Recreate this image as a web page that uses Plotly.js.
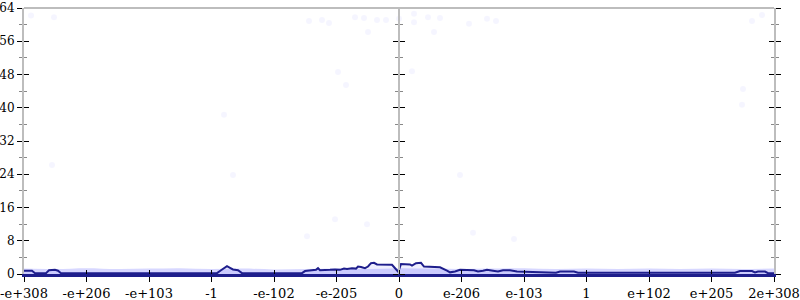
<!DOCTYPE html>
<html>
<head>
<meta charset="utf-8">
<script src="https://cdn.plot.ly/plotly-3.0.1.min.js"></script>
<style>html,body{margin:0;padding:0;background:#fff}#chart{width:800px;height:300px}</style>
</head>
<body>
<div id="chart"></div>
<script>
// x positions are in tick-index units (0 = -e+308 ... 6 = 0 ... 12 = 2e+308)
const tickPositions = [0,1,2,3,4,5,6,7,8,9,10,11,12];
const tickLabels = ["-e+308","-e+206","-e+103","-1","-e-102","-e-205","0","e-206","e-103","1","e+102","e+205","2e+308"];
const yTicks = [0,8,16,24,32,40,48,56,64];

// main (dark) series
const lineX = [0,0.128,0.176,0.352,0.4,0.496,0.544,0.592,1.5,2.5,3.088,3.152,3.2,3.248,3.296,3.344,3.424,3.488,4.0,4.448,4.496,4.608,4.672,4.704,4.736,4.896,4.976,5.056,5.12,5.168,5.248,5.312,5.344,5.392,5.456,5.504,5.552,5.6,5.648,5.888,5.936,5.984,6.0,6.032,6.176,6.208,6.272,6.352,6.4,6.656,6.768,6.816,6.896,6.976,7.2,7.264,7.344,7.408,7.504,7.584,7.664,7.776,7.888,8.096,8.176,8.512,8.576,8.8,8.864,10.0,11.376,11.456,11.648,11.696,11.744,11.856,11.904,12];
const lineY = [0.8,0.8,0.2,0.2,0.9,1.0,0.8,0.2,0.2,0.2,0.2,0.9,1.3,1.9,1.5,1.1,0.9,0.2,0.2,0.2,0.7,0.9,1.0,1.4,0.9,1.0,1.1,1.0,1.3,1.2,1.4,1.3,1.8,1.7,1.4,1.8,2.6,2.7,2.3,2.2,1.3,0.6,1.0,2.4,2.3,2.0,2.6,2.7,1.8,1.6,0.8,0.4,0.6,1.0,0.9,0.6,0.8,1.0,0.8,0.6,0.9,0.9,0.6,0.5,0.3,0.3,0.6,0.6,0.3,0.3,0.3,0.7,0.7,0.4,0.6,0.6,0.2,0.2];

// faint band of samples near zero
const bandX = [0,0.5,1,1.5,2,2.5,3,3.5,4,4.5,5,5.5,6,6.5,7,7.5,8,8.5,9,9.5,10,10.5,11,11.5,12];
const bandY = [1.3,1.2,1.4,1.2,1.3,1.4,1.2,1.3,1.1,1.2,1.3,1.2,1.4,1.3,1.2,1.3,1.4,1.2,1.3,1.2,1.3,1.2,1.3,1.2,1.3];

// sparse faint samples higher up
const dotX = [0.112,0.48,4.56,4.768,4.88,5.296,5.44,5.648,5.792,6.0,6.24,6.24,6.464,6.656,7.12,7.408,7.552,5.504,6.56,5.024,5.152,6.208,11.808,11.648,11.504,4.976,5.488,4.528,7.184,7.84,0.448,3.2,3.344,6.976,11.488];
const dotY = [62.2,61.8,60.9,61.1,60.4,61.8,61.6,61.1,61.1,61.4,62.6,60.6,61.8,61.6,60.2,61.4,60.9,58.2,58.2,48.6,45.5,48.8,62.3,60.9,44.5,13.2,12.0,9.1,9.9,8.4,26.2,38.3,23.8,23.8,40.7];

const navy = '#1e1e8c';
const grey = '#bdbdbd';
const font = {family: '"DejaVu Serif", "Liberation Serif", serif', size: 13, color: '#000'};
const yFont = {family: '"DejaVu Serif", "Liberation Serif", serif', size: 12, color: '#000'};

const traces = [
  {x: bandX, y: bandY, type: 'scatter', mode: 'lines', line: {width: 0, shape: 'spline'},
   fill: 'tozeroy', fillcolor: 'rgba(110,110,255,0.28)', hoverinfo: 'skip'},
  {x: dotX, y: dotY, type: 'scatter', mode: 'markers',
   marker: {size: 6, color: 'rgba(110,110,255,0.07)'}},
  {x: lineX, y: lineY, type: 'scatter', mode: 'lines',
   line: {color: navy, width: 2},
   fill: 'tozeroy', fillcolor: 'rgba(120,120,250,0.12)'},
  {x: [], y: [], yaxis: 'y2'},
  {x: [], y: [], yaxis: 'y3'},
  {x: [], y: [], yaxis: 'y4'},
  {x: [], y: [], yaxis: 'y5'},
  {x: [], y: [], yaxis: 'y6'},
  {x: [], y: [], xaxis: 'x2'}
];

function yAx(extra) {
  return Object.assign({
    range: [0, 64], tickvals: yTicks, showgrid: false, zeroline: false,
    showline: true, linecolor: grey, linewidth: 2,
    ticks: 'outside', ticklen: 5, tickcolor: '#000', tickwidth: 1,
    showticklabels: false,
    minor: {dtick: 4, ticklen: 3, tickcolor: '#888', ticks: 'outside', showgrid: false},
    fixedrange: true
  }, extra);
}

const layout = {
  width: 800, height: 300,
  margin: {l: 24, r: 26, t: 8, b: 26},
  paper_bgcolor: '#fff', plot_bgcolor: '#fff',
  showlegend: false,
  font: font,
  xaxis: {
    range: [0, 12], tickvals: tickPositions, ticktext: tickLabels,
    showgrid: false, zeroline: false,
    showline: true, linecolor: navy, linewidth: 3,
    ticks: 'outside', ticklen: 5, tickcolor: '#000', tickfont: font,
    layer: 'above traces'
  },
  xaxis2: {
    overlaying: 'x', range: [0, 12], tickvals: tickPositions,
    showgrid: false, zeroline: false, showline: false,
    ticks: 'inside', ticklen: 4, tickcolor: '#000', showticklabels: false
  },
  yaxis: yAx({side: 'left', showticklabels: true, tickfont: yFont, ticklabelstandoff: 0}),
  yaxis2: yAx({overlaying: 'y', side: 'left', ticks: 'inside',
    minor: {dtick: 4, ticklen: 3, tickcolor: '#888', ticks: 'inside', showgrid: false}}),
  yaxis3: yAx({overlaying: 'y', side: 'right'}),
  yaxis4: yAx({overlaying: 'y', side: 'right', ticks: 'inside',
    minor: {dtick: 4, ticklen: 3, tickcolor: '#888', ticks: 'inside', showgrid: false}}),
  yaxis5: yAx({overlaying: 'y', anchor: 'free', position: 0.5, side: 'left'}),
  yaxis6: yAx({overlaying: 'y', anchor: 'free', position: 0.5, side: 'right'}),
  shapes: [
    {type: 'line', xref: 'paper', yref: 'paper', x0: 0, x1: 1, y0: 1, y1: 1,
     line: {color: grey, width: 2}}
  ]
};

Plotly.newPlot('chart', traces, layout, {displayModeBar: false, staticPlot: true});
</script>
</body>
</html>
